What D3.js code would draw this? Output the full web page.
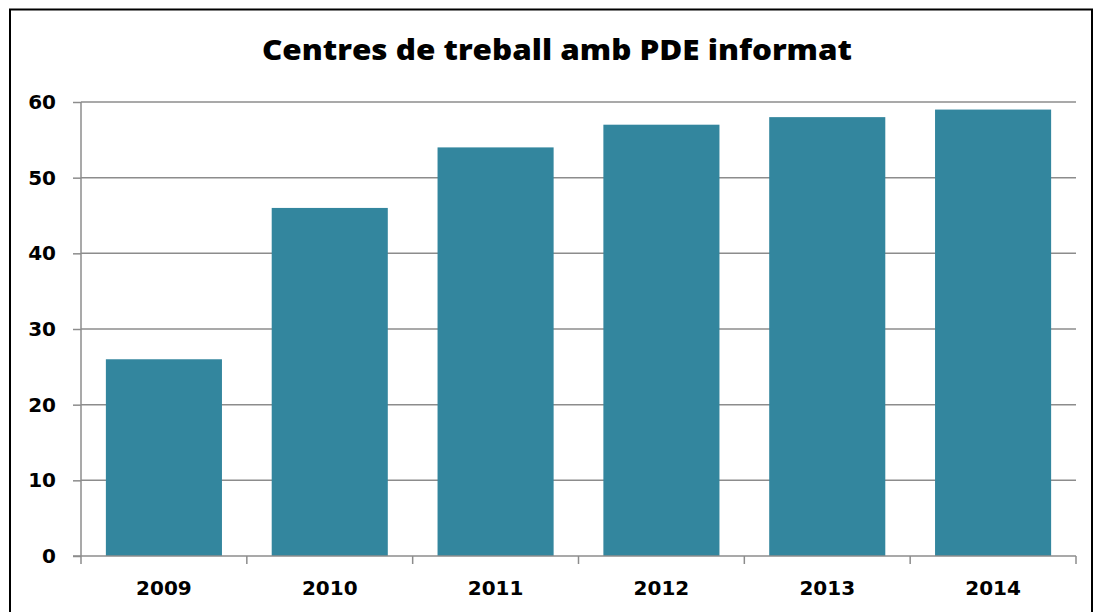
<!DOCTYPE html>
<html lang="en">
<head>
<meta charset="utf-8">
<title>Centres de treball amb PDE informat</title>
<script src="https://d3js.org/d3.v7.min.js"></script>
<style>
  body { margin: 0; background: #fff; }
  svg text { font-family: "DejaVu Sans", sans-serif; font-weight: bold; fill: #000; }
</style>
</head>
<body>
<script>
var years = ["2009", "2010", "2011", "2012", "2013", "2014"];
var centres = [26, 46, 54, 57, 58, 59];
var yTicks = [0, 10, 20, 30, 40, 50, 60];

var w = 1093, h = 612;
var margin = {top: 102, right: 17, bottom: 56, left: 81};

var svg = d3.select("body").append("svg")
  .attr("width", w)
  .attr("height", h);

// outer frame (bottom edge falls outside the picture)
svg.append("rect")
  .attr("x", 10).attr("y", 9.5)
  .attr("width", 1082).attr("height", 640)
  .attr("fill", "none")
  .attr("stroke", "#000")
  .attr("stroke-width", 2);

var x = d3.scaleBand()
  .domain(years)
  .range([margin.left, w - margin.right])
  .paddingInner(0.3)
  .paddingOuter(0.15);

var y = d3.scaleLinear()
  .domain([0, 60])
  .range([h - margin.bottom, margin.top]);

// gridlines
svg.append("g")
  .selectAll("line")
  .data(yTicks.slice(1))
  .enter().append("line")
  .attr("x1", margin.left).attr("x2", w - margin.right)
  .attr("y1", d => y(d)).attr("y2", d => y(d))
  .attr("stroke", "#8c8c8c")
  .attr("stroke-width", 1.5);

// bars
svg.append("g")
  .selectAll("rect")
  .data(centres)
  .enter().append("rect")
  .attr("x", (d, i) => x(years[i]))
  .attr("y", d => y(d))
  .attr("width", x.bandwidth())
  .attr("height", d => y(0) - y(d))
  .attr("fill", "#33869e");

// y axis
var yAxis = svg.append("g")
  .attr("transform", "translate(" + margin.left + ",0)")
  .call(d3.axisLeft(y).tickValues(yTicks).tickSize(8).tickPadding(17));
yAxis.selectAll("line, path").attr("stroke", "#8c8c8c").attr("stroke-width", 1.5);
yAxis.select("path").attr("d", "M0," + y(60) + "V" + y(0));
yAxis.selectAll("text").attr("font-size", 20).attr("fill", "#000");

// x axis: ticks sit on category boundaries
var bounds = d3.range(years.length + 1).map(i => margin.left + i * (w - margin.right - margin.left) / years.length);
var xg = svg.append("g");
xg.append("line")
  .attr("x1", margin.left - 8).attr("x2", w - margin.right)
  .attr("y1", y(0)).attr("y2", y(0))
  .attr("stroke", "#8c8c8c").attr("stroke-width", 1.5);
xg.selectAll("line.tick")
  .data(bounds)
  .enter().append("line")
  .attr("class", "tick")
  .attr("x1", d => d).attr("x2", d => d)
  .attr("y1", y(0)).attr("y2", y(0) + 8)
  .attr("stroke", "#8c8c8c").attr("stroke-width", 1.5);
xg.selectAll("text")
  .data(years)
  .enter().append("text")
  .attr("x", d => x(d) + x.bandwidth() / 2)
  .attr("y", 595)
  .attr("text-anchor", "middle")
  .attr("font-size", 20)
  .text(d => d);

// title
svg.append("text")
  .attr("x", 557)
  .attr("y", 60)
  .attr("text-anchor", "middle")
  .style("font-family", "'Open Sans', sans-serif")
  .style("font-weight", 800)
  .attr("font-size", 28)
  .attr("textLength", 590)
  .attr("lengthAdjust", "spacingAndGlyphs")
  .text("Centres de treball amb PDE informat");
</script>
</body>
</html>
